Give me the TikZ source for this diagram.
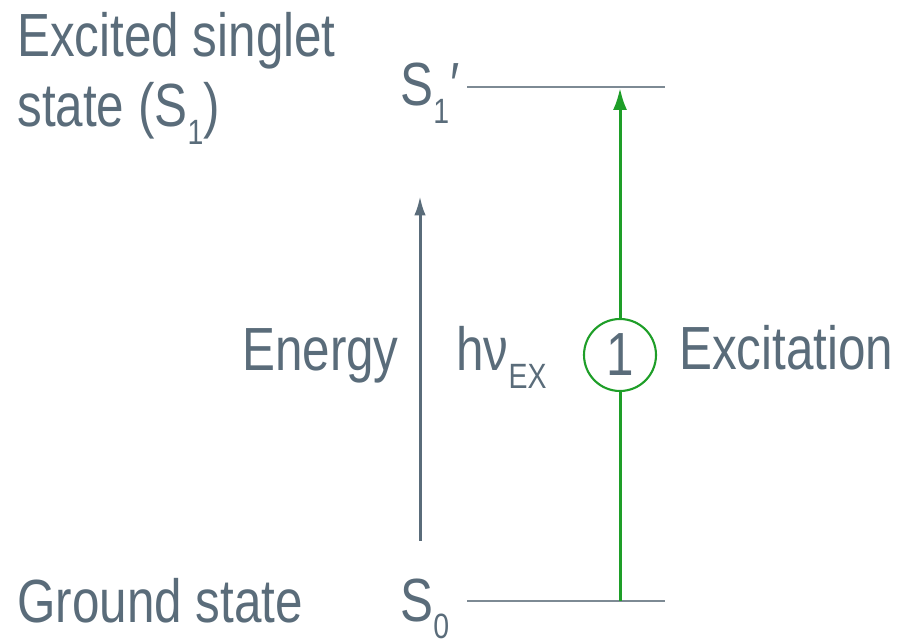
\documentclass[tikz,border=0pt]{standalone}
\usepackage{fontspec}
\setmainfont[FakeStretch=0.81]{Liberation Sans}
\usetikzlibrary{arrows.meta}
\definecolor{txtgrey}{RGB}{90,108,122}
\definecolor{linegrey}{RGB}{125,138,148}
\definecolor{exgreen}{RGB}{30,158,40}
\newcommand{\mysub}[1]{\raisebox{-0.28em}{\fontsize{20}{20}\selectfont #1}}
\begin{document}
\begin{tikzpicture}[x=0.02cm,y=-0.02cm,
  lbl/.style={inner sep=0pt,text=txtgrey,font=\fontsize{34.7}{40}\selectfont},
  level/.style={draw=linegrey,line width=1.3pt},
  greenarr/.style={draw=exgreen,line width=1.7pt},
  greyarr/.style={draw=txtgrey,line width=1.7pt}]
\useasboundingbox (0,0) rectangle (902,644);
% labels
\node[lbl,anchor=base west] (exc1) at (17,57) {Excited singlet};
\node[lbl,anchor=base west] (exc2) at (17,127) {state (S\mysub{1})};
\node[lbl,anchor=base west] (gs) at (17,622) {Ground state};
\node[lbl,anchor=base west] (s1) at (400,106) {S\mysub{1}\kern1pt′};
\node[lbl,anchor=base west] (s0) at (400,621) {S\mysub{0}};
\node[lbl,anchor=base east] (energy) at (399,371) {Energy};
\node[lbl,anchor=base west] (hnu) at (456,371) {hν\mysub{EX}};
\node[lbl,anchor=base west] (excit) at (679,370) {Excitation};
% levels
\coordinate (t1) at (467,87);
\coordinate (t2) at (665,87);
\coordinate (b1) at (467,601);
\coordinate (b2) at (665,601);
\draw[level] (t1) -- (t2);
\draw[level] (b1) -- (b2);
% energy arrow
\coordinate (ea) at (420,541);
\coordinate (eb) at (420,196);
\draw[greyarr,-{Latex[length=11pt,width=6.5pt]}] (ea) -- (eb);
% excitation arrow
\coordinate (ga) at (620,601);
\coordinate (gb) at (620,88);
\node[lbl,circle,draw=exgreen,line width=1.2pt,minimum size=72*0.02cm] (c1) at (620,355) {1};
\draw[greenarr] (ga) -- (c1.south);
\draw[greenarr,-{Latex[length=12.5pt,width=8pt]}] (c1.north) -- (gb);
\end{tikzpicture}
\end{document}
